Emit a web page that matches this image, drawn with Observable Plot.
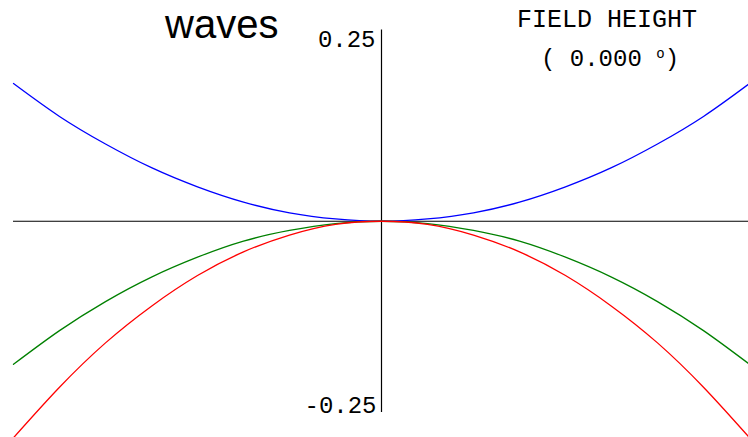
<!DOCTYPE html>
<html>
<head>
<meta charset="utf-8">
<script src="https://cdn.jsdelivr.net/npm/d3@7"></script>
<script src="https://cdn.jsdelivr.net/npm/@observablehq/plot@0.6"></script>
<style>
  html, body { margin: 0; padding: 0; background: #fff; }
  #chart svg { display: block; }
</style>
</head>
<body>
<div id="chart"></div>
<script>
// Pupil coordinate (normalised), shared by all three wavelengths
const pupil = [-1, -0.875, -0.75, -0.625, -0.5, -0.375, -0.25, -0.125, 0,
               0.125, 0.25, 0.375, 0.5, 0.625, 0.75, 0.875, 1];

// Optical path difference in waves for each wavelength
const blueWaves  = [0.180, 0.137, 0.101, 0.070, 0.045, 0.025, 0.011, 0.003, 0,
                    0.003, 0.011, 0.025, 0.045, 0.070, 0.101, 0.137, 0.180];
const greenWaves = [-0.187, -0.143, -0.105, -0.073, -0.047, -0.026, -0.012, -0.003, 0,
                    -0.003, -0.012, -0.026, -0.047, -0.073, -0.105, -0.143, -0.187];
const redWaves   = [-0.283, -0.217, -0.159, -0.111, -0.071, -0.040, -0.018, -0.004, 0,
                    -0.004, -0.018, -0.040, -0.071, -0.111, -0.159, -0.217, -0.283];

const seriesNames  = ["blue", "green", "red"];
const seriesColors = ["#0000ff", "#008000", "#ff0000"];
const seriesValues = [blueWaves, greenWaves, redWaves];

// Vertical scale limits shown as labels on the axis
const yTicks = [0.25, -0.25];
const yTickLabels = ["0.25", "-0.25"];

const rows = seriesNames.flatMap((name, i) =>
  pupil.map((p, j) => ({series: name, p, w: seriesValues[i][j]})));

const mono = "'Liberation Mono', 'Courier New', monospace";

const chart = Plot.plot({
  width: 748,
  height: 437,
  marginLeft: 13,
  marginRight: -1,
  marginTop: 29.5,
  marginBottom: 25,
  x: {domain: [-1, 1], axis: null},
  y: {domain: [-0.25, 0.25], axis: null},
  color: {domain: seriesNames, range: seriesColors},
  style: {background: "#fff", overflow: "visible"},
  marks: [
    Plot.ruleY([0], {stroke: "#000", strokeWidth: 1.2}),
    Plot.ruleX([0], {y1: -0.25, y2: 0.25, stroke: "#000", strokeWidth: 1.2}),
    Plot.line(rows, {x: "p", y: "w", z: "series", stroke: "series",
                     curve: "natural", strokeWidth: 1.3}),
    Plot.text([0], {x: 0, y: yTicks[0], text: [yTickLabels[0]], textAnchor: "end",
                    lineAnchor: "top", dx: -6, dy: 0, fontSize: 24, fontFamily: mono, fill: "#000"}),
    Plot.text([0], {x: 0, y: yTicks[1], text: [yTickLabels[1]], textAnchor: "end",
                    lineAnchor: "bottom", dx: -5, dy: 0, fontSize: 24, fontFamily: mono, fill: "#000"})
  ]
});

// Title and field annotation
const svg = d3.select(chart);
svg.append("text")
  .attr("x", 165).attr("y", 38)
  .attr("text-anchor", "start")
  .attr("font-family", "'Liberation Sans', Arial, sans-serif")
  .attr("font-size", 40)
  .attr("fill", "#000")
  .text("waves");
svg.append("text")
  .attr("x", 607).attr("y", 27)
  .attr("text-anchor", "middle")
  .attr("font-family", mono)
  .attr("font-size", 25)
  .attr("fill", "#000")
  .text("FIELD HEIGHT");
const field = svg.append("text")
  .attr("x", 541).attr("y", 66)
  .attr("text-anchor", "start")
  .attr("font-family", mono)
  .attr("font-size", 24)
  .attr("fill", "#000");
field.append("tspan").text("( 0.000 ");
field.append("tspan").attr("font-size", 14).attr("dy", -8).text("o");
field.append("tspan").attr("dy", 8).text(")");

document.getElementById("chart").appendChild(chart);
</script>
</body>
</html>
